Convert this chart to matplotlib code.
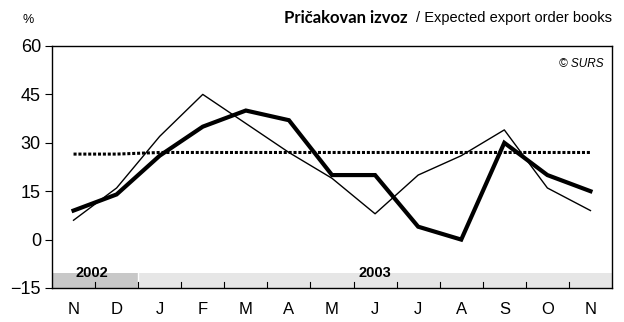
import matplotlib.pyplot as plt
from matplotlib.patches import Rectangle

months = ["N", "D", "J", "F", "M", "A", "M", "J", "J", "A", "S", "O", "N"]
actual = [9, 14, 26, 35, 40, 37, 20, 20, 4, 0, 30, 20, 15]
seasonal = [6, 16, 32, 45, 36, 27, 19, 8, 20, 26, 34, 16, 9]
average = [26.5, 26.5, 27, 27, 27, 27, 27, 27, 27, 27, 27, 27, 27]
years = ["2002", "2003"]
year_spans = [(-0.5, 1.5), (1.5, 12.5)]

plt.rcParams['font.family'] = ['Liberation Sans', 'DejaVu Sans']

fig = plt.figure(figsize=(6.24, 3.22), dpi=100)
ax = fig.add_axes([52 / 624, 1 - 288 / 322, 560 / 624, 242 / 322])

x = list(range(len(months)))
ax.set_xlim(-0.5, 12.5)
ax.set_ylim(-15, 60)

# year band along the bottom
band_colors = ["#c8c8c8", "#e6e6e6"]
for (x0, x1), c in zip(year_spans, band_colors):
    ax.add_patch(Rectangle((x0, -15), x1 - x0, 4.7, facecolor=c,
                           edgecolor="none", zorder=0))
ax.axvline(1.5, ymin=0, ymax=4.7 / 75, color="white", lw=1, zorder=0.5)
ax.text(0.42, -11.6, years[0], ha="center", va="baseline", fontsize=10.5,
        fontweight="bold")
ax.text(7.0, -11.6, years[1], ha="center", va="baseline", fontsize=10.5,
        fontweight="bold")
for b in range(12):
    ax.plot([b + 0.5, b + 0.5], [-15, -13.2], color="black", lw=0.8,
            zorder=1)

ax.plot(x, seasonal, color="black", lw=1.0, zorder=3)
ax.plot(x, actual, color="black", lw=3.0, solid_joinstyle="miter", zorder=4)
ax.plot(x, average, color="black", lw=2.2, linestyle=(0, (1.0, 0.6)),
        zorder=2)

ax.set_yticks([-15, 0, 15, 30, 45, 60])
ax.tick_params(axis="y", direction="out", length=5, width=0.8,
               labelsize=13, pad=3)
ax.set_xticks(x)
ax.set_xticklabels(months)
ax.tick_params(axis="x", length=0, labelsize=12, pad=10)

for s in ax.spines.values():
    s.set_linewidth(1.0)

fig.text(28 / 624, 1 - 20 / 322, "%", ha="center", va="center", fontsize=9)
fig.text(612 / 624, 1 - 18 / 322, "/ Expected export order books",
         ha="right", va="center", fontsize=10.5)
fig.text(408 / 624, 1 - 18 / 322, "Pričakovan izvoz", ha="right",
         va="center", fontsize=12, fontweight="bold",
         family=["Lato", "DejaVu Sans"])
ax.text(0.985, 0.925, "© SURS", transform=ax.transAxes, ha="right",
        va="center", fontsize=8.5, style="italic")

fig.savefig("out.png", dpi=100)
